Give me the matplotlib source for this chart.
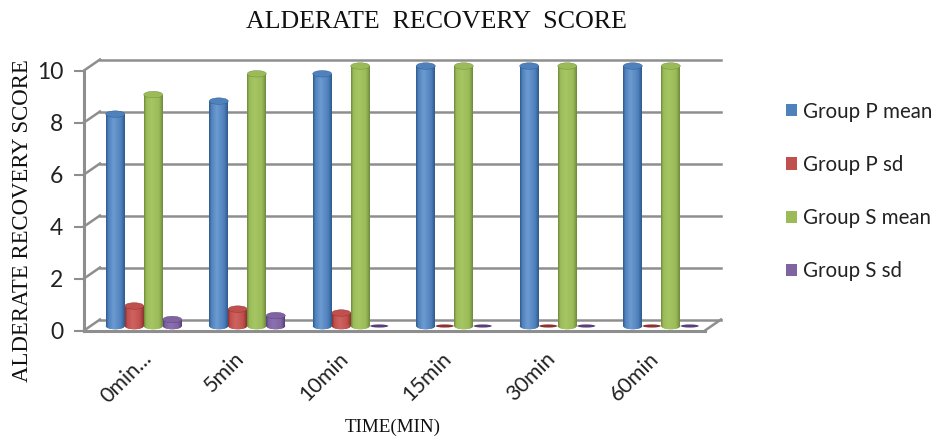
import numpy as np
import matplotlib
matplotlib.use("Agg")
import matplotlib.pyplot as plt
from matplotlib.colors import LinearSegmentedColormap
from matplotlib.patches import Ellipse, Patch
from matplotlib.transforms import ScaledTranslation, offset_copy

times = ["0min...", "5min", "10min", "15min", "30min", "60min"]
p_mean = [8.15, 8.65, 9.7, 10, 10, 10]
p_sd = [0.77, 0.65, 0.5, 0, 0, 0]
s_mean = [8.9, 9.7, 10, 10, 10, 10]
s_sd = [0.25, 0.4, 0, 0, 0, 0]
y_ticks = [0, 2, 4, 6, 8, 10]

series = [
    ("Group P mean", p_mean, "#4f81bd", "#2f5a8c", "#6d9bd1"),
    ("Group P sd", p_sd, "#c0504d", "#8c3230", "#cf6360"),
    ("Group S mean", s_mean, "#9bbb59", "#6f8a3a", "#a6c663"),
    ("Group S sd", s_sd, "#8064a2", "#583f78", "#8d70b0"),
]

wall_color = "#8e8e8e"
sans = "Lato"
serif = "Liberation Serif"

W, H = 939, 442
fig = plt.figure(figsize=(W / 100, H / 100), dpi=100)
ax = fig.add_axes([84 / W, 1 - 330.5 / H, 621 / W, 260 / H])

# depth of the fake 3d box, in pixels
back = offset_copy(ax.transData, fig, x=16, y=11, units="dots")
mid = offset_copy(ax.transData, fig, x=8, y=4.5, units="dots")

n = len(times)
for v in y_ticks:
    ax.plot([0, n], [v, v], color=wall_color, lw=1.8, transform=back, clip_on=False, zorder=1)
    # diagonal on the left wall
    ax.plot([0, 16 / 621], [v, v + 11 / 26], color=wall_color, lw=1.8,
            transform=ax.get_yaxis_transform(), clip_on=False, zorder=1)

ax.plot([n, n + 16 / 103.5], [0, 11 / 26], color=wall_color, lw=1.8, clip_on=False, zorder=1)
ax.plot([0, n], [0, 0], color=wall_color, lw=2.2, clip_on=False, zorder=2)
ax.plot([0, 0], [0, 10], color=wall_color, lw=2.2, clip_on=False, zorder=2)

bar_w = 19 / 103.5
x = np.arange(n) + 0.5
ramp = np.linspace(0, 1, 64).reshape(1, -1)

for i, (label, values, base, dark, light) in enumerate(series):
    cmap = LinearSegmentedColormap.from_list(
        label, [(0, dark), (0.12, base), (0.4, light), (0.8, base), (1, dark)]
    )
    xs = x + (i - 2) * bar_w
    bars = ax.bar(xs, values, width=bar_w, align="edge", color=base, transform=mid,
                  linewidth=0, zorder=3 + i, clip_on=False)
    for left_x, v, bar in zip(xs, values, bars):
        if v == 0:
            # zero values only leave a flat disc on the floor
            ax.add_patch(Ellipse((left_x + bar_w / 2, 0), bar_w * 0.95, 0.12, color=dark,
                                 transform=mid, zorder=3 + i, lw=0, clip_on=False))
            bar.set_visible(False)
            continue
        foot = Ellipse((left_x + bar_w / 2, 0), bar_w, 0.25, color=base,
                       transform=mid, zorder=3 + i, lw=0, clip_on=False)
        ax.add_patch(foot)
        im = ax.imshow(ramp, cmap=cmap, aspect="auto", transform=mid,
                       extent=[left_x, left_x + bar_w, 0, v], zorder=3 + i)
        im.set_clip_path(bar)
        im = ax.imshow(ramp, cmap=cmap, aspect="auto", transform=mid,
                       extent=[left_x, left_x + bar_w, -0.2, 0.01], zorder=3 + i)
        im.set_clip_box(fig.bbox)
        im.set_clip_path(foot)
        ax.add_patch(Ellipse((left_x + bar_w / 2, v), bar_w, 0.25, facecolor=base,
                             edgecolor=dark, lw=0.3, transform=mid, zorder=3 + i, clip_on=False))

ax.set_xlim(0, n)
ax.set_ylim(0, 10)
for side in ax.spines.values():
    side.set_visible(False)
ax.patch.set_visible(False)

ax.set_yticks(y_ticks)
ax.tick_params(axis="y", length=7, width=1.5, color=wall_color, pad=8,
               labelsize=16.5, labelcolor="#222222")
ax.set_xticks(x)
ax.set_xticklabels(times, rotation=45, ha="right", rotation_mode="anchor",
                   fontsize=15.5, color="#222222")
ax.tick_params(axis="x", length=0, pad=13)
label_shift = [6, -5, -5, -5, -5, -5]
for tick, dx in zip(ax.get_xticklabels(), label_shift):
    tick.set_transform(tick.get_transform() + ScaledTranslation(dx / 100, 0, fig.dpi_scale_trans))
for tick in ax.get_xticklabels() + ax.get_yticklabels():
    tick.set_family(sans)

fig.text(436 / W, 1 - 22 / H, "ALDERATE  RECOVERY  SCORE", family=serif, fontsize=18.7,
         ha="center", va="center", color="#111111")
fig.text(23 / W, 1 - 221 / H, "ALDERATE RECOVERY SCORE", family=serif, fontsize=16.4,
         rotation=90, ha="center", va="center", color="#111111")
fig.text(393 / W, 1 - 427 / H, "TIME(MIN)", family=serif, fontsize=13.8,
         ha="center", va="center", color="#111111")

handles = [Patch(facecolor=s[2], label=s[0]) for s in series]
fig.legend(handles=handles, loc="upper left", bbox_to_anchor=(786 / W, 1 - 101.5 / H),
           frameon=False, handlelength=0.55, handleheight=0.55,
           handletextpad=0.3, labelspacing=1.62, borderpad=0, borderaxespad=0,
           prop={"family": sans, "size": 14.8}, labelcolor="#222222")

fig.savefig("out.png", dpi=100)
